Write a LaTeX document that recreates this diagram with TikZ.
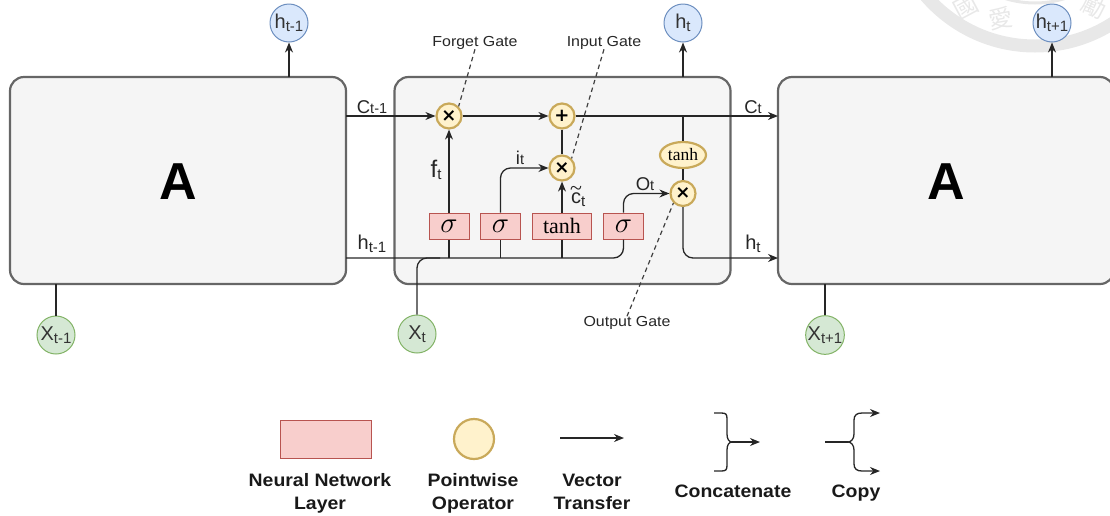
\documentclass[tikz,border=0pt]{standalone}
\usepackage{fontspec}
\setmainfont{Liberation Sans}
\newfontfamily\wide[FakeStretch=1.08]{Liberation Sans}
\newfontfamily\gatef[FakeStretch=1.1]{Liberation Sans}
\newfontfamily\serifm{Liberation Serif}
\newfontfamily\opf{DejaVu Sans}
\newfontfamily\cjk{Noto Sans CJK TC}
\usetikzlibrary{arrows.meta,shapes.geometric}
\definecolor{boxline}{HTML}{666666}
\definecolor{boxfill}{HTML}{F5F5F5}
\definecolor{redf}{HTML}{F8CECC}
\definecolor{redl}{HTML}{B85450}
\definecolor{yelf}{HTML}{FFF2CC}
\definecolor{yell}{HTML}{C9A95A}
\definecolor{bluf}{HTML}{DAE8FC}
\definecolor{blul}{HTML}{6C8EBF}
\definecolor{gref}{HTML}{D5E8D4}
\definecolor{grel}{HTML}{82B366}
\definecolor{wm}{HTML}{E8E8E8}
\newcommand{\sub}[2]{{\fontsize{20}{20}\selectfont #1}\raisebox{-3.5pt}{\fontsize{15}{15}\selectfont #2}}
\newcommand{\subh}[2]{{\fontsize{18.5}{18.5}\selectfont #1}\raisebox{-0.5pt}{\fontsize{14.5}{14.5}\selectfont #2}}
\newcommand{\sg}{\scalebox{1.4}{$\sigma$}}
\tikzset{
  cell/.style={draw=boxline,fill=boxfill,line width=2.2pt,rounded corners=14pt,minimum width=336pt,minimum height=207pt,inner sep=0pt},
  state/.style={circle,draw=blul,fill=bluf,line width=1pt,minimum size=38pt,inner sep=0pt,text=black!80},
  inp/.style={circle,draw=grel,fill=gref,line width=1pt,minimum size=38pt,inner sep=0pt,text=black!80},
  opnode/.style={circle,draw=yell,fill=yelf,line width=2.2pt,minimum size=25pt,inner sep=0pt,font=\opf\bfseries\fontsize{18}{18}\selectfont},
  layer/.style={draw=redl,fill=redf,line width=1pt,minimum height=26pt,inner sep=0pt,font=\serifm\fontsize{22}{22}\selectfont},
  wire/.style={line width=1.3pt,draw=black!85},
  arr/.style={wire,-{Stealth[length=10pt,width=8pt]}},
  gateline/.style={line width=1.2pt,draw=black!75,dash pattern=on 4.5pt off 3.5pt},
  gatetext/.style={font=\gatef\fontsize{14.5}{14.5}\selectfont,text=black!85,inner sep=0pt},
  labeltext/.style={inner sep=0pt,text=black!85},
  legendtext/.style={font=\wide\bfseries\fontsize{18}{23}\selectfont,align=center,inner sep=0pt,text=black!90},
}
\begin{document}
\begin{tikzpicture}[x=1pt,y=-1pt]
\useasboundingbox (0,0) rectangle (1110,515);
\clip (0,0) rectangle (1110,515);
% watermark
\begin{scope}
\draw[wm,line width=13pt] (1035,-98) circle (144pt);
\draw[wm,line width=3pt] (1035,-98) circle (101pt);
\node[text=wm,font=\cjk\fontsize{24}{24}\selectfont,rotate=28,inner sep=0pt] (wm1) at (966,7) {國};
\node[text=wm,font=\cjk\fontsize{24}{24}\selectfont,rotate=10,inner sep=0pt] (wm2) at (1001,18) {愛};
\node[text=wm,font=\cjk\fontsize{24}{24}\selectfont,rotate=-25,inner sep=0pt] (wm3) at (1094,6) {勵};
\end{scope}
% cells
\node[cell] (A1) at (178,180.5) {};
\node[cell] (A2) at (562.5,180.5) {};
\node[cell] (A3) at (946,180.5) {};
\node[font=\bfseries\fontsize{52}{52}\selectfont,inner sep=0pt] (AL) at (178,182) {A};
\node[font=\bfseries\fontsize{52}{52}\selectfont,inner sep=0pt] (AR) at (946,182) {A};
% states
\node[state] (h0) at (289,23) {\sub{h}{t-1}};
\node[state] (h1) at (683,23) {\sub{h}{t}};
\node[state] (h2) at (1052,23) {\sub{h}{t+1}};
\node[inp] (x0) at (56,335) {\sub{X}{t-1}};
\node[inp] (x1) at (417,334) {\sub{X}{t}};
\node[inp] (x2) at (825,335) {\sub{X}{t+1}};
% operators
\node[opnode] (f) at (449,116) {×};
\node[opnode] (p) at (562,116) {+};
\node[opnode] (m) at (562,168) {×};
\node[opnode] (o) at (683,193.5) {×};
\node[draw=yell,fill=yelf,line width=2.2pt,ellipse,minimum width=46pt,minimum height=26pt,inner sep=0pt,font=\serifm\fontsize{17.5}{17.5}\selectfont] (th) at (683,155) {tanh};
% layers
\node[layer,minimum width=40pt] (s1) at (449,226) {\sg};
\node[layer,minimum width=40pt] (s2) at (500.5,226) {\sg};
\node[layer,minimum width=59pt] (s3) at (562,226) {tanh};
\node[layer,minimum width=40pt] (s4) at (623.5,226) {\sg};
% wire points
\coordinate (cIn) at (346,116);
\coordinate (cOut) at (778,116);
\coordinate (hIn) at (346,258);
\coordinate (hOut) at (778,258);
\coordinate (j) at (683,116);
\coordinate (b1) at (449,258);
\coordinate (b2) at (500.5,258);
\coordinate (b3) at (562,258);
\coordinate (xj) at (440,258);
\coordinate (t0) at (289,77);
\coordinate (t1) at (683,77);
\coordinate (t2) at (1052,77);
\coordinate (u0) at (56,284);
\coordinate (u2) at (825,284);
% wires
\draw[arr] (cIn) -- (f);
\draw[arr] (f) -- (p);
\draw[arr] (p) -- (cOut);
\draw[wire] (j) -- (th);
\draw[wire] (th) -- (o);
\draw[wire] (p) -- (m);
\draw[arr] (s1) -- (f);
\draw[arr,rounded corners=10pt] (s2.north) |- (m.west);
\draw[arr] (s3) -- (m);
\draw[arr,rounded corners=10pt] (s4.north) |- (o.west);
\draw[arr,rounded corners=10pt] (o.south) |- (hOut);
\draw[wire,rounded corners=10pt] (hIn) -| (s4.south);
\draw[wire] (b1) -- (s1.south);
\draw[wire] (b2) -- (s2.south);
\draw[wire] (b3) -- (s3.south);
\draw[wire,rounded corners=10pt] (x1.north) |- (xj);
\draw[arr] (t0) -- (h0);
\draw[arr] (t1) -- (h1);
\draw[arr] (t2) -- (h2);
\draw[wire] (u0) -- (x0);
\draw[wire] (u2) -- (x2);
% gates
\node[gatetext] (gF) at (475,42.5) {Forget Gate};
\node[gatetext] (gI) at (604,42.5) {Input Gate};
\node[gatetext] (gO) at (627,323) {Output Gate};
\draw[gateline] (gF.south) -- (f.north east);
\draw[gateline] (gI.south) -- (m.north east);
\draw[gateline] (gO.north) -- (o.south west);
% labels
\node[labeltext] (lc0) at (372,107) {\subh{C}{t-1}};
\node[labeltext] (lc1) at (753,107) {\subh{C}{t}};
\node[labeltext] (lh0) at (372,244) {\sub{h}{t-1}};
\node[labeltext] (lh1) at (753,244) {\sub{h}{t}};
\node[labeltext] (lf) at (436,170) {{\fontsize{24}{24}\selectfont f}\raisebox{-1.5pt}{\fontsize{15}{15}\selectfont t}};
\node[labeltext] (li) at (520,158) {\subh{i}{t}};
\node[labeltext] (lo) at (645,184) {\subh{O}{t}};
\node[labeltext,anchor=base west] (lct) at (571,203) {{\fontsize{20}{20}\selectfont\rlap{\raisebox{7.5pt}{\hspace{-1pt}\serifm\fontsize{22}{22}\selectfont\textasciitilde}}c}\raisebox{-3pt}{\fontsize{15}{15}\selectfont t}};
% legend
\node[draw=redl,fill=redf,line width=1pt,minimum width=91pt,minimum height=38pt,inner sep=0pt] (lgR) at (325.5,439) {};
\node[draw=yell,fill=yelf,line width=2.2pt,circle,minimum size=40pt,inner sep=0pt] (lgC) at (474,439) {};
\coordinate (lgA0) at (560,438);
\coordinate (lgA1) at (624,438);
\draw[arr] (lgA0) -- (lgA1);
\coordinate (ca) at (714,413);
\coordinate (cb) at (714,471);
\coordinate (cj) at (732,442);
\coordinate (ce) at (760,442);
\draw[wire] (ca) -- ++(7,0) .. controls ++(5,0) and ++(0,-5) .. ++(6,6) -- (727,434) .. controls (727,439) and (729,442) .. (cj);
\draw[wire] (cb) -- ++(7,0) .. controls ++(5,0) and ++(0,5) .. ++(6,-6) -- (727,450) .. controls (727,445) and (729,442) .. (cj);
\draw[arr] (cj) -- (ce);
\coordinate (da) at (825,442);
\coordinate (dj) at (848,442);
\coordinate (dt) at (880,413);
\coordinate (db) at (880,471);
\draw[wire] (da) -- (dj);
\draw[arr] (dj) .. controls (851,442) and (854,439) .. (854,434) -- (854,420) .. controls (854,415) and (857,413) .. (862,413) -- (dt);
\draw[arr] (dj) .. controls (851,442) and (854,445) .. (854,450) -- (854,464) .. controls (854,469) and (857,471) .. (862,471) -- (db);
\node[legendtext] (t1L) at (320,493) {\strut Neural Network\\Layer\strut};
\node[legendtext] (t2L) at (473,493) {\strut Pointwise\\Operator\strut};
\node[legendtext] (t3L) at (592,493) {\strut Vector\\Transfer\strut};
\node[legendtext] (t4L) at (733,493) {\strut Concatenate};
\node[legendtext] (t5L) at (856,493) {\strut Copy};
\end{tikzpicture}
\end{document}
